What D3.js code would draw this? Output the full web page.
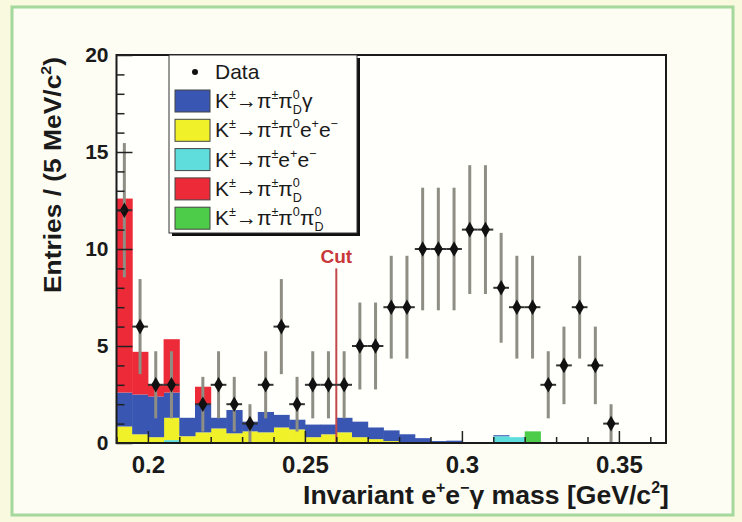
<!DOCTYPE html>
<meta charset="utf-8">
<script src="https://d3js.org/d3.v7.min.js"></script>
<style>
  body { margin: 0; background: #f9f9e0; }
  text { font-family: "Liberation Sans", Arial, sans-serif; }
</style>

<div id="my_dataviz"></div>

<script>

// bin low edges, GeV/c^2 (5 MeV bins)
var binLow = [0.190,0.195,0.200,0.205,0.210,0.215,0.220,0.225,0.230,0.235,
              0.240,0.245,0.250,0.255,0.260,0.265,0.270,0.275,0.280,0.285,
              0.290,0.295,0.300,0.305,0.310,0.315,0.320,0.325,0.330,0.335,
              0.340,0.345,0.350,0.355,0.360];
var binWidth = 0.005;

// data points and their errors
var dataCounts = [12,6,3,3,0,2,3,2,1,3, 6,2,3,3,3,5,5,7,7,10,
                  10,10,11,11,8,7,7,3,4,7, 4,1,0,0,0];
var dataErrors = [3.46,2.45,1.73,1.73,0,1.41,1.73,1.41,1,1.73,
                  2.45,1.41,1.73,1.73,1.73,2.24,2.24,2.65,2.65,3.16,
                  3.16,3.16,3.32,3.32,2.83,2.65,2.65,1.73,2,2.65,
                  2,1,0,0,0];

// MC backgrounds (stacked)
var piPi0Dg   = [1.75,2.05,2.1,1.3,0.95,1.45,0.55,1.2,0.5,1.05,
                 0.65,0.5,0.65,0.5,0.75,0.8,0.6,0.55,0.4,0.25,
                 0.1,0.12,0.03,0,0.05,0,0,0,0,0, 0,0,0,0,0];
var piPi0ee   = [0.85,0.45,0.3,1.15,0.35,0.55,0.75,0.5,0.6,0.55,
                 0.8,0.7,0.3,0.45,0.55,0.3,0.2,0.1,0.05,0,
                 0,0,0,0,0,0,0,0,0,0, 0,0,0,0,0];
var piee      = [0,0,0,0.15,0,0,0,0,0,0, 0,0,0,0,0,0,0,0,0,0,
                 0,0,0,0,0.35,0.3,0,0,0,0, 0,0,0,0,0];
var piPi0D    = [10.0,2.2,0.6,2.75,0,0.9,0,0,0,0, 0,0,0,0,0,0,0,0,0,0,
                 0,0,0,0,0,0,0,0,0,0, 0,0,0,0,0];
var piPi0Pi0D = [0,0,0,0,0,0,0,0,0,0, 0,0,0,0,0,0,0,0,0,0,
                 0,0,0,0,0,0,0.6,0,0,0, 0,0,0,0,0];

var cutValue = 0.26, cutTop = 9;

var xTicks = [0.2, 0.25, 0.3, 0.35];
var xTickLabels = ["0.2", "0.25", "0.3", "0.35"];
var xMinor = [0.19,0.21,0.22,0.23,0.24,0.26,0.27,0.28,0.29,0.31,0.32,0.33,0.34,0.36];
var yTicks = [0, 5, 10, 15, 20];
var yMinor = [1,2,3,4,6,7,8,9,11,12,13,14,16,17,18,19];

var W = 742, H = 522;
var svg = d3.select("#my_dataviz").append("svg")
    .attr("width", W).attr("height", H);

// outer canvas
svg.append("rect").attr("x", 12).attr("y", 7).attr("width", 721).attr("height", 508)
    .attr("fill", "#fdfdf3").attr("stroke", "#a4d89c").attr("stroke-width", 3);

var x = d3.scaleLinear().domain([0.19, 0.365]).range([116.5, 666]);
var y = d3.scaleLinear().domain([0, 20]).range([443, 55]);

// plot area background
svg.append("rect").attr("x", x(0.19)).attr("y", y(20))
    .attr("width", x(0.365) - x(0.19)).attr("height", y(0) - y(20))
    .attr("fill", "#fffffb");

// stack
var keys = ["piee", "piPi0ee", "piPi0Dg", "piPi0D", "piPi0Pi0D"];
var colors = {piee: "#5fdcdc", piPi0ee: "#f1f12a", piPi0Dg: "#3856b2", piPi0D: "#ec2a38", piPi0Pi0D: "#4ccc48"};
var table = binLow.map(function(b, i) {
  return {lo: b, piee: piee[i], piPi0ee: piPi0ee[i], piPi0Dg: piPi0Dg[i], piPi0D: piPi0D[i], piPi0Pi0D: piPi0Pi0D[i]};
});
var stacked = d3.stack().keys(keys)(table);

svg.append("g").selectAll("g")
  .data(stacked)
  .enter().append("g")
    .attr("fill", function(d) { return colors[d.key]; })
  .selectAll("rect")
  .data(function(d) { return d.filter(function(v) { return v[1] - v[0] > 0; }); })
  .enter().append("rect")
    .attr("x", function(d) { return x(d.data.lo); })
    .attr("width", function(d) { return x(d.data.lo + binWidth) - x(d.data.lo) + 0.5; })
    .attr("y", function(d) { return y(d[1]); })
    .attr("height", function(d) { return y(d[0]) - y(d[1]); });

// cut line
svg.append("line")
    .attr("x1", x(cutValue)).attr("x2", x(cutValue))
    .attr("y1", y(0)).attr("y2", y(cutTop))
    .attr("stroke", "#c4484a").attr("stroke-width", 2);
svg.append("text")
    .attr("x", x(cutValue)).attr("y", y(cutTop) - 5)
    .attr("text-anchor", "middle")
    .attr("font-size", 19).attr("font-weight", "bold")
    .attr("fill", "#c8383a")
    .text("Cut");

// data points
var pts = binLow.map(function(b, i) {
  return {c: b + binWidth / 2, n: dataCounts[i], e: dataErrors[i]};
}).filter(function(d) { return d.n > 0; });

var pg = svg.append("g");
pg.selectAll(".ev").data(pts).enter().append("line")
    .attr("x1", function(d) { return x(d.c); }).attr("x2", function(d) { return x(d.c); })
    .attr("y1", function(d) { return y(d.n - d.e); }).attr("y2", function(d) { return y(d.n + d.e); })
    .attr("stroke", "#8e8e84").attr("stroke-width", 3);
pg.selectAll(".eh").data(pts).enter().append("line")
    .attr("x1", function(d) { return x(d.c - binWidth / 2); }).attr("x2", function(d) { return x(d.c + binWidth / 2); })
    .attr("y1", function(d) { return y(d.n); }).attr("y2", function(d) { return y(d.n); })
    .attr("stroke", "#333").attr("stroke-width", 2);
pg.selectAll("path").data(pts).enter().append("path")
    .attr("transform", function(d) { return "translate(" + x(d.c) + "," + y(d.n) + ")"; })
    .attr("d", d3.symbol(d3.symbolDiamond, 70))
    .attr("fill", "#111");

// frame
svg.append("rect").attr("x", x(0.19)).attr("y", y(20))
    .attr("width", x(0.365) - x(0.19)).attr("height", y(0) - y(20))
    .attr("fill", "none").attr("stroke", "#1a1a1a").attr("stroke-width", 2);

// axes (ticks pointing inside like ROOT)
var xAxis = svg.append("g").attr("transform", "translate(0," + y(0) + ")")
    .call(d3.axisBottom(x).tickValues(xTicks).tickSizeInner(-12).tickSizeOuter(0)
          .tickPadding(13).tickFormat(function(d, i) { return xTickLabels[i]; }));
svg.append("g").attr("transform", "translate(0," + y(0) + ")")
    .call(d3.axisBottom(x).tickValues(xMinor).tickSizeInner(-6).tickSizeOuter(0).tickFormat(""));
var yAxis = svg.append("g").attr("transform", "translate(" + x(0.19) + ",0)")
    .call(d3.axisLeft(y).tickValues(yTicks).tickSizeInner(-16).tickSizeOuter(0).tickPadding(8));
svg.append("g").attr("transform", "translate(" + x(0.19) + ",0)")
    .call(d3.axisLeft(y).tickValues(yMinor).tickSizeInner(-8).tickSizeOuter(0).tickFormat(""));

svg.selectAll(".domain").remove();
svg.selectAll(".tick line").attr("stroke", "#222").attr("stroke-width", 1.5);
xAxis.selectAll("text").attr("font-size", 24).attr("font-weight", "bold").attr("fill", "#1a1a1a")
    .attr("font-family", "'Liberation Sans', Arial, sans-serif");
yAxis.selectAll("text").attr("font-size", 21).attr("font-weight", "bold").attr("fill", "#1a1a1a")
    .attr("font-family", "'Liberation Sans', Arial, sans-serif");

// rich text helper: parts = [[string, kind]], kind: "" | "^" | "_" | "^_" (string is [sup, sub])
function richText(g, parts, size, weight) {
  var cx = 0;
  parts.forEach(function(p) {
    var kind = p[1];
    if (kind === "^_") {
      var a = g.append("text").attr("x", cx).attr("y", -size * 0.42).attr("font-size", size * 0.6)
          .attr("font-weight", weight).text(p[0][0]);
      var b = g.append("text").attr("x", cx).attr("y", size * 0.28).attr("font-size", size * 0.6)
          .attr("font-weight", weight).text(p[0][1]);
      cx += Math.max(a.node().getComputedTextLength(), b.node().getComputedTextLength());
    } else {
      var dy = kind === "^" ? -size * 0.42 : kind === "_" ? size * 0.28 : 0;
      var fs = kind === "" ? size : size * 0.6;
      var t = g.append("text").attr("x", cx).attr("y", dy).attr("font-size", fs)
          .attr("font-weight", weight).text(p[0]);
      cx += t.node().getComputedTextLength();
    }
  });
  return cx;
}

// axis titles (squeezed/stretched to the reference length)
var xt = svg.append("g").attr("fill", "#1a1a1a");
var xw = richText(xt, [["Invariant e", ""], ["+", "^"], ["e", ""], ["\u2212", "^"], ["\u03b3 mass [GeV/c", ""], ["2", "^"], ["]", ""]], 26, "bold");
var xLen = 366;
xt.attr("transform", "translate(" + (669 - xLen) + ",504) scale(" + (xLen / xw) + ",1)");

var yt = svg.append("g").attr("fill", "#1a1a1a");
var yw = richText(yt, [["Entries / (5 MeV/c", ""], ["2", "^"], [")", ""]], 23, "bold");
var yLen = 236;
yt.attr("transform", "translate(61," + (57 + yLen) + ") rotate(-90) scale(" + (yLen / yw) + ",1)");

// legend
var lg = svg.append("g");
lg.append("rect").attr("x", 172).attr("y", 58).attr("width", 188).attr("height", 178).attr("fill", "#111");
lg.append("rect").attr("x", 169).attr("y", 55).attr("width", 188).attr("height", 178)
    .attr("fill", "#fffffb").attr("stroke", "#333").attr("stroke-width", 1);
lg.append("circle").attr("cx", 195).attr("cy", 72).attr("r", 3).attr("fill", "#111");
lg.append("text").attr("x", 215).attr("y", 79).attr("font-size", 21).attr("fill", "#1a1a1a").text("Data");

var pm = "\u00b1", arr = "\u2192";
var legendRows = [
  {key: "piPi0Dg",   parts: [["K", ""], [pm, "^"], [arr, ""], ["\u03c0", ""], [pm, "^"], ["\u03c0", ""], [["0", "D"], "^_"], ["\u03b3", ""]]},
  {key: "piPi0ee",   parts: [["K", ""], [pm, "^"], [arr, ""], ["\u03c0", ""], [pm, "^"], ["\u03c0", ""], ["0", "^"], ["e", ""], ["+", "^"], ["e", ""], ["\u2212", "^"]]},
  {key: "piee",      parts: [["K", ""], [pm, "^"], [arr, ""], ["\u03c0", ""], [pm, "^"], ["e", ""], ["+", "^"], ["e", ""], ["\u2212", "^"]]},
  {key: "piPi0D",    parts: [["K", ""], [pm, "^"], [arr, ""], ["\u03c0", ""], [pm, "^"], ["\u03c0", ""], [["0", "D"], "^_"]]},
  {key: "piPi0Pi0D", parts: [["K", ""], [pm, "^"], [arr, ""], ["\u03c0", ""], [pm, "^"], ["\u03c0", ""], ["0", "^"], ["\u03c0", ""], [["0", "D"], "^_"]]}
];
legendRows.forEach(function(r, i) {
  var cy = 101 + i * 29.3;
  lg.append("rect").attr("x", 175).attr("y", cy - 11).attr("width", 35).attr("height", 22)
      .attr("fill", colors[r.key]).attr("stroke", "#444").attr("stroke-width", 1);
  var g = lg.append("g").attr("fill", "#1a1a1a").attr("transform", "translate(215," + (cy + 7) + ")");
  richText(g, r.parts, 21, "normal");
  // arrow glyph drawn larger like the reference
  g.selectAll("text").filter(function() { return this.textContent === arr; })
      .attr("font-family", "'DejaVu Sans', sans-serif");
});

</script>
